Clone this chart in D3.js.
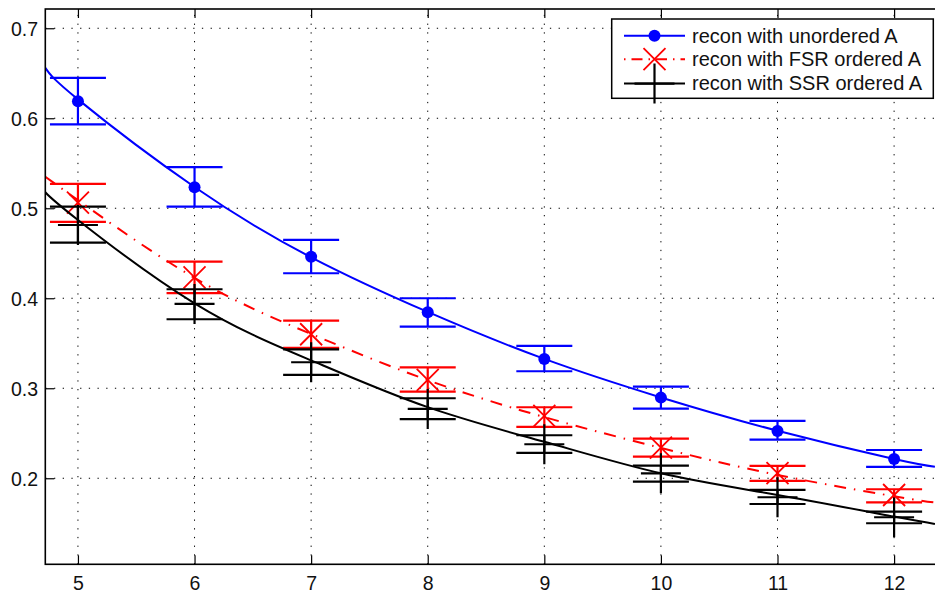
<!DOCTYPE html>
<html>
<head>
<meta charset="utf-8">
<script src="https://cdn.jsdelivr.net/npm/d3@7"></script>
<style>
  html, body { margin: 0; padding: 0; background: #fff; }
  svg { display: block; font-family: "Liberation Sans", Arial, Helvetica, sans-serif; }
</style>
</head>
<body>
<div id="chart"></div>
<script>
// --- PART 1: DATA ---
const xValues = [5, 6, 7, 8, 9, 10, 11, 12];
const yTicks = [0.2, 0.3, 0.4, 0.5, 0.6, 0.7];

// recon with unordered A (blue, dots)
const unorderedMean  = [0.619, 0.5233, 0.4462, 0.3844, 0.3326, 0.2896, 0.2526, 0.2214];
const unorderedUpper = [0.6448, 0.5456, 0.4648, 0.4000, 0.3470, 0.3018, 0.2637, 0.2314];
const unorderedLower = [0.5933, 0.5018, 0.4278, 0.3684, 0.3189, 0.2773, 0.2429, 0.2126];

// recon with FSR ordered A (red, x)
const fsrMean  = [0.5062, 0.4233, 0.3600, 0.3092, 0.2692, 0.2340, 0.2056, 0.1814];
const fsrUpper = [0.5270, 0.4407, 0.3751, 0.3233, 0.2789, 0.2440, 0.2137, 0.1878];
const fsrLower = [0.4848, 0.4056, 0.3448, 0.2962, 0.2570, 0.2240, 0.1970, 0.1733];

// recon with SSR ordered A (black, +)
const ssrMean  = [0.4814, 0.3937, 0.3289, 0.2770, 0.2378, 0.2055, 0.1789, 0.1567];
const ssrUpper = [0.5018, 0.4100, 0.3433, 0.2889, 0.2478, 0.2140, 0.1870, 0.1629];
const ssrLower = [0.4618, 0.3767, 0.3148, 0.2656, 0.2281, 0.1962, 0.1714, 0.1500];

// fitted curves, sampled across the visible x range
const fitX          = [4.72, 5, 6, 7, 8, 9, 10, 11, 12, 12.35];
const unorderedFit  = [0.656, 0.621, 0.5236, 0.4455, 0.3848, 0.3326, 0.2898, 0.2528, 0.2215, 0.2129];
const fsrFit        = [0.535, 0.509, 0.4226, 0.3603, 0.309, 0.268, 0.2337, 0.2037, 0.180, 0.173];
const ssrFit        = [0.5178, 0.487, 0.3944, 0.331, 0.279, 0.2405, 0.2055, 0.1815, 0.1574, 0.1492];

const legendLabels = ["recon with unordered A", "recon with FSR ordered A", "recon with SSR ordered A"];

// --- PART 2: SETUP ---
const width = 935, height = 596;
const plot = { left: 45.3, top: 9, right: 952.4, bottom: 564.3 };  // right edge is cropped off

const x = d3.scaleLinear().domain([4.72, 12.5]).range([plot.left, plot.right]);
const y = d3.scaleLinear().domain([0.1044, 0.7214]).range([plot.bottom, plot.top]);

const svg = d3.select("#chart").append("svg")
  .attr("width", width)
  .attr("height", height);

svg.append("defs").append("clipPath").attr("id", "clip")
  .append("rect")
  .attr("x", plot.left).attr("y", plot.top)
  .attr("width", plot.right - plot.left).attr("height", plot.bottom - plot.top);

// --- PART 3: GRID ---
const grid = svg.append("g").attr("stroke", "#000").attr("stroke-width", 1)
  .attr("stroke-dasharray", "1.3,7.4");

grid.selectAll(".vgrid").data(xValues).enter().append("line")
  .attr("x1", d => x(d)).attr("x2", d => x(d))
  .attr("y1", plot.bottom).attr("y2", plot.top);

grid.selectAll(".hgrid").data(yTicks).enter().append("line")
  .attr("x1", plot.left).attr("x2", plot.right)
  .attr("y1", d => y(d)).attr("y2", d => y(d));

// --- PART 4: SERIES ---
const series = [
  { mean: unorderedMean, upper: unorderedUpper, lower: unorderedLower, fit: unorderedFit,
    color: "#0000ff", dash: null, marker: "dot" },
  { mean: fsrMean, upper: fsrUpper, lower: fsrLower, fit: fsrFit,
    color: "#ff0000", dash: "12,8,1.5,8", marker: "x" },
  { mean: ssrMean, upper: ssrUpper, lower: ssrLower, fit: ssrFit,
    color: "#000000", dash: null, marker: "plus" }
];

const CAP = 28; // half width of error bar caps, px

function drawMarker(g, type, cx, cy, color) {
  if (type === "dot") {
    g.append("circle").attr("cx", cx).attr("cy", cy).attr("r", 6).attr("fill", color);
  } else if (type === "x") {
    const s = 11;
    g.append("path")
      .attr("d", `M${cx - s},${cy - s}L${cx + s},${cy + s}M${cx - s},${cy + s}L${cx + s},${cy - s}`)
      .attr("stroke", color).attr("stroke-width", 1.8).attr("fill", "none");
  } else {
    const s = 20;
    g.append("path")
      .attr("d", `M${cx - s},${cy}L${cx + s},${cy}M${cx},${cy - s}L${cx},${cy + s}`)
      .attr("stroke", color).attr("stroke-width", 2.2).attr("fill", "none");
  }
}

const dataLayer = svg.append("g").attr("clip-path", "url(#clip)");

// error bars with markers
series.forEach(s => {
  const g = dataLayer.append("g");
  xValues.forEach((xv, i) => {
    const px = x(xv);
    g.append("path")
      .attr("d", `M${px},${y(s.upper[i])}L${px},${y(s.lower[i])}` +
                 `M${px - CAP},${y(s.upper[i])}L${px + CAP},${y(s.upper[i])}` +
                 `M${px - CAP},${y(s.lower[i])}L${px + CAP},${y(s.lower[i])}`)
      .attr("stroke", s.color).attr("stroke-width", 2.2).attr("fill", "none");
    drawMarker(g, s.marker, px, y(s.mean[i]), s.color);
  });
});

// fitted curves
const fitLine = d3.line().x(d => x(d[0])).y(d => y(d[1])).curve(d3.curveNatural);
series.forEach(s => {
  dataLayer.append("path")
    .datum(fitX.map((xv, i) => [xv, s.fit[i]]))
    .attr("d", fitLine)
    .attr("fill", "none")
    .attr("stroke", s.color)
    .attr("stroke-width", 2)
    .attr("stroke-dasharray", s.dash);
});

// --- PART 5: AXES ---
const fontSize = 19.5;

const xAxis = svg.append("g").attr("transform", `translate(0,${plot.bottom})`)
  .call(d3.axisBottom(x).tickValues(xValues).tickSize(-9).tickPadding(12).tickFormat(d3.format("d")));
const xAxisTop = svg.append("g").attr("transform", `translate(0,${plot.top})`)
  .call(d3.axisTop(x).tickValues(xValues).tickSize(-9).tickFormat(""));
const yAxis = svg.append("g").attr("transform", `translate(${plot.left},0)`)
  .call(d3.axisLeft(y).tickValues(yTicks).tickSize(-9).tickPadding(7.3).tickFormat(d3.format(".1f")));

[xAxis, xAxisTop, yAxis].forEach(a => {
  a.select(".domain").remove();
  a.selectAll(".tick line").attr("stroke", "#000").attr("stroke-width", 1.2);
  a.selectAll("text").attr("fill", "#111").style("font-size", fontSize + "px")
    .style("font-family", '"Liberation Sans", Arial, sans-serif');
});
yAxis.selectAll("text").attr("dy", "0.35em");

// box around plot area
svg.append("rect")
  .attr("x", plot.left).attr("y", plot.top)
  .attr("width", plot.right - plot.left).attr("height", plot.bottom - plot.top)
  .attr("fill", "none").attr("stroke", "#000").attr("stroke-width", 1.6);

// --- PART 6: LEGEND ---
const legend = svg.append("g");
legend.append("rect")
  .attr("x", 611.7).attr("y", 19).attr("width", 321.6).attr("height", 79.3)
  .attr("fill", "#fff").attr("stroke", "#000").attr("stroke-width", 1.5);

const rowY = [35.8, 59.2, 83.6];
series.forEach((s, i) => {
  legend.append("line")
    .attr("x1", 624).attr("x2", 685).attr("y1", rowY[i]).attr("y2", rowY[i])
    .attr("stroke", s.color).attr("stroke-width", 2)
    .attr("stroke-dasharray", s.dash ? "1.5,6,11,6" : null);
  drawMarker(legend, s.marker, 654.5, rowY[i], s.color);
  legend.append("text")
    .attr("x", 692).attr("y", rowY[i] + 6.8)
    .style("font-size", "20px")
    .attr("fill", "#111")
    .text(legendLabels[i]);
});
</script>
</body>
</html>
